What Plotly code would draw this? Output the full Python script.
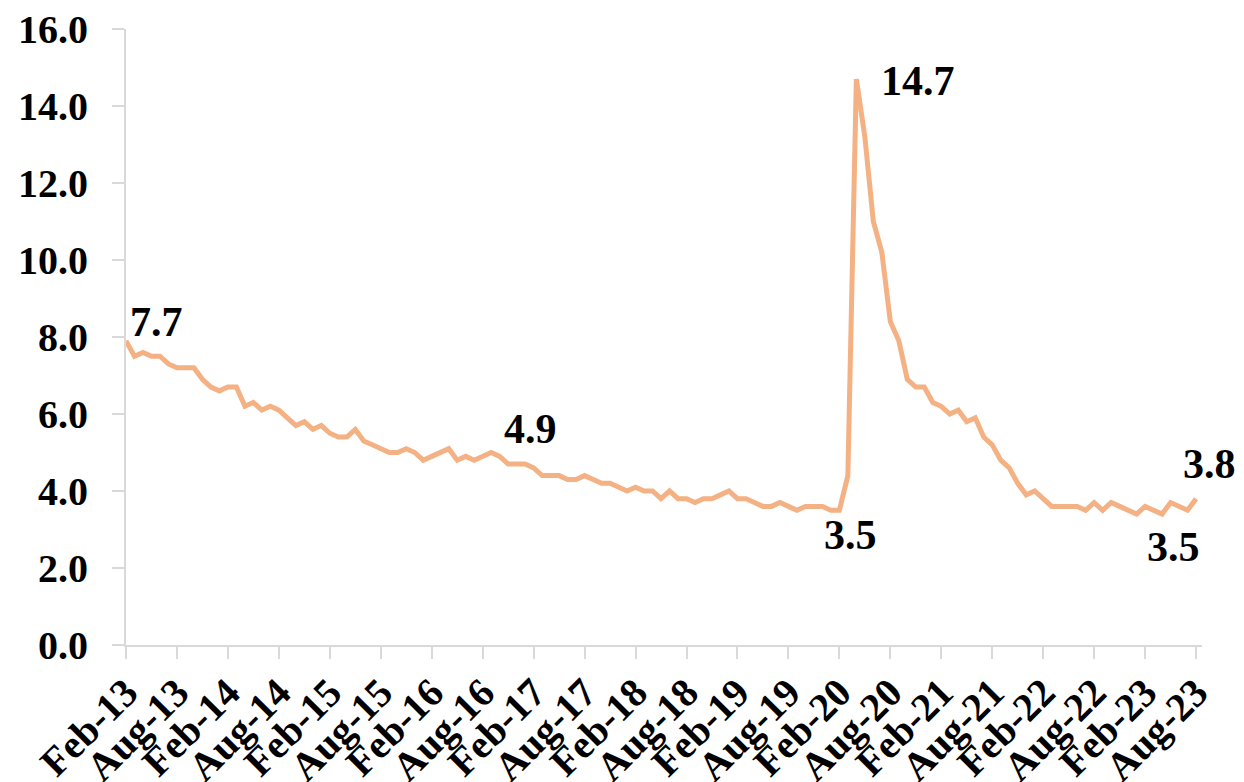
import plotly.graph_objects as go

# Monthly unemployment rate (%), Feb-13 .. Aug-23
rate_2013 = [7.9, 7.5, 7.6, 7.5, 7.5, 7.3, 7.2, 7.2, 7.2, 6.9, 6.7]
rate_2014 = [6.6, 6.7, 6.7, 6.2, 6.3, 6.1, 6.2, 6.1, 5.9, 5.7, 5.8, 5.6]
rate_2015 = [5.7, 5.5, 5.4, 5.4, 5.6, 5.3, 5.2, 5.1, 5.0, 5.0, 5.1, 5.0]
rate_2016 = [4.8, 4.9, 5.0, 5.1, 4.8, 4.9, 4.8, 4.9, 5.0, 4.9, 4.7, 4.7]
rate_2017 = [4.7, 4.6, 4.4, 4.4, 4.4, 4.3, 4.3, 4.4, 4.3, 4.2, 4.2, 4.1]
rate_2018 = [4.0, 4.1, 4.0, 4.0, 3.8, 4.0, 3.8, 3.8, 3.7, 3.8, 3.8, 3.9]
rate_2019 = [4.0, 3.8, 3.8, 3.7, 3.6, 3.6, 3.7, 3.6, 3.5, 3.6, 3.6, 3.6]
rate_2020 = [3.5, 3.5, 4.4, 14.7, 13.2, 11.0, 10.2, 8.4, 7.9, 6.9, 6.7, 6.7]
rate_2021 = [6.3, 6.2, 6.0, 6.1, 5.8, 5.9, 5.4, 5.2, 4.8, 4.6, 4.2, 3.9]
rate_2022 = [4.0, 3.8, 3.6, 3.6, 3.6, 3.6, 3.5, 3.7, 3.5, 3.7, 3.6, 3.5]
rate_2023 = [3.4, 3.6, 3.5, 3.4, 3.7, 3.6, 3.5, 3.8]

values = (rate_2013 + rate_2014 + rate_2015 + rate_2016 + rate_2017 + rate_2018
          + rate_2019 + rate_2020 + rate_2021 + rate_2022 + rate_2023)

# month labels Feb-13 .. Aug-23
months = ["Jan", "Feb", "Mar", "Apr", "May", "Jun", "Jul", "Aug", "Sep", "Oct", "Nov", "Dec"]
month_labels = []
for yr in range(13, 24):
    for m in months:
        month_labels.append(f"{m}-{yr}")
month_labels = month_labels[1:1 + len(values)]
idx = list(range(len(values)))

tick_idx = list(range(0, len(values), 6))
tick_text = [month_labels[i] for i in tick_idx]

# data label texts and their anchor points (month index, value)
label_text = ["7.7", "4.9", "3.5", "14.7", "3.8", "3.5"]
label_x = [3.6, 47.6, 85.3, 93.2, 127.6, 123.4]
label_y = [8.4, 5.61, 2.86, 14.65, 4.7, 2.55]

X_MAX = 126.7
FONT = "Liberation Serif"
GREY = "#d9d9d9"

fig = go.Figure()
fig.add_trace(go.Scatter(
    x=idx, y=values, mode="lines",
    line=dict(color="#F4B183", width=5),
    hovertext=month_labels, cliponaxis=False,
))

for t, x, y in zip(label_text, label_x, label_y):
    fig.add_annotation(x=x / X_MAX, xref="paper", y=y, yref="y", text=t,
                       showarrow=False, xanchor="center", yanchor="middle",
                       font=dict(family=FONT, size=42, color="black", weight="bold"))

# the page body adds an 8px offset, margins compensate for it
fig.update_layout(
    width=1244, height=782,
    margin=dict(l=118, r=50, t=21, b=145),
    paper_bgcolor="white", plot_bgcolor="white",
    showlegend=False,
)
fig.update_xaxes(
    range=[0, X_MAX], automargin=False,
    tickmode="array", tickvals=tick_idx, ticktext=tick_text,
    tickangle=-45,
    tickfont=dict(family=FONT, size=40, color="black", weight="bold"),
    showline=True, linecolor=GREY, linewidth=2,
    ticks="outside", ticklen=12, tickcolor=GREY, tickwidth=2,
    ticklabelstandoff=-6, ticklabeloverflow="allow",
    showgrid=False, zeroline=False,
)
fig.update_yaxes(
    range=[0, 16], dtick=2, tickformat=".1f", automargin=False,
    tickfont=dict(family=FONT, size=40, color="black", weight="bold"),
    showline=True, linecolor=GREY, linewidth=2,
    ticks="outside", ticklen=12, tickcolor=GREY, tickwidth=2,
    ticklabelstandoff=16, ticklabeloverflow="allow",
    showgrid=False, zeroline=False,
)

fig.write_html("out.html")
